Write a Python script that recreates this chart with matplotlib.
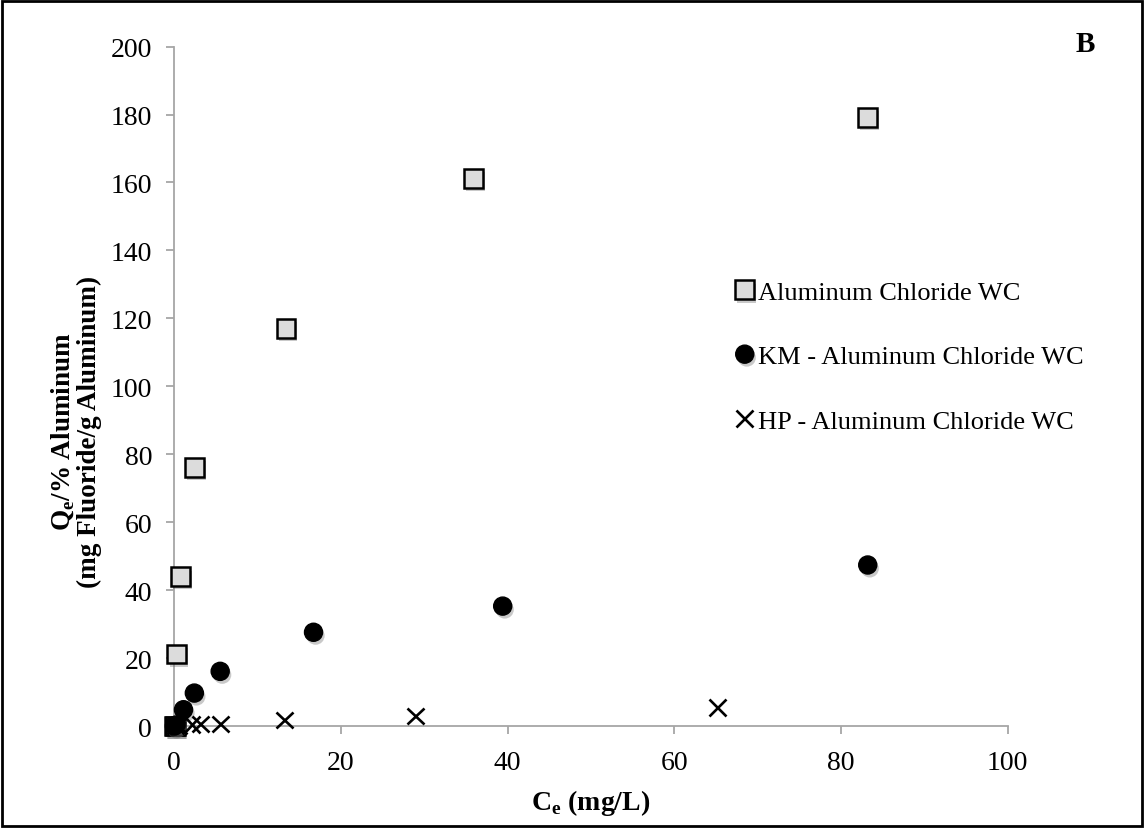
import matplotlib
matplotlib.use("Agg")
import matplotlib.pyplot as plt
import matplotlib.patheffects as pe
from matplotlib.patches import Rectangle

plt.rcParams['font.family'] = ['Liberation Serif', 'DejaVu Serif']
plt.rcParams['mathtext.fontset'] = 'custom'
plt.rcParams['mathtext.rm'] = 'Liberation Serif'
plt.rcParams['mathtext.bf'] = 'Liberation Serif:bold'

# Data
al_x = [0.0, 0.1, 0.3, 0.7, 2.4, 13.4, 35.9, 83.2]
al_y = [0.0, 0.0, 21.2, 44.0, 76.2, 117.1, 161.2, 179.2]
km_x = [0.0, 0.2, 1.1, 2.4, 5.5, 16.7, 39.4, 83.2]
km_y = [0.0, 0.3, 4.8, 9.7, 16.1, 27.6, 35.3, 47.4]
hp_x = [0.1, 0.5, 2.1, 3.1, 5.5, 13.2, 28.9, 65.2]
hp_y = [0.0, 0.1, 0.4, 0.6, 0.6, 1.8, 3.0, 5.5]
labels = ['Aluminum Chloride WC', 'KM - Aluminum Chloride WC', 'HP - Aluminum Chloride WC']

fig = plt.figure(figsize=(11.44, 8.29), dpi=100)
ax = fig.add_axes([0.1524, 0.1230, 0.7285, 0.8196])

shadow = [pe.SimplePatchShadow(offset=(1.5, -2.5), shadow_rgbFace='0.4', alpha=0.35), pe.Normal()]

ax.plot(al_x, al_y, ls='none', marker='s', ms=13.5, mfc='#dcdcdc', mec='black', mew=1.8,
        label=labels[0], clip_on=False, path_effects=shadow, zorder=3)
ax.plot(km_x, km_y, ls='none', marker='o', ms=13, mfc='black', mec='black',
        label=labels[1], clip_on=False, path_effects=shadow, zorder=4)
ax.plot(hp_x, hp_y, ls='none', marker='x', ms=12, mec='black', mew=1.9,
        label=labels[2], clip_on=False, path_effects=shadow, zorder=5)

ax.set_xlim(0, 100)
ax.set_ylim(0, 200)
ax.set_xticks(range(0, 101, 20))
ax.set_yticks(range(0, 201, 20))

for s in ['top', 'right']:
    ax.spines[s].set_visible(False)
for s in ['left', 'bottom']:
    ax.spines[s].set_color('#a6a6a6')
    ax.spines[s].set_linewidth(1.3)
ax.tick_params(axis='both', colors='#a6a6a6', labelcolor='black', length=6, width=1.3,
               labelsize=20)
ax.tick_params(axis='y', pad=10)
ax.tick_params(axis='x', pad=11)

ax.set_xlabel(r'C$_\mathbf{e}$ (mg/L)', fontsize=20, fontweight='bold', labelpad=9)
fig.text(0.066, 1 - 432 / 829, 'Q$_\\mathbf{e}$/% Aluminum\n(mg Fluoride/g Aluminum)',
         rotation=90, ha='center', va='center', multialignment='center',
         fontsize=19.5, fontweight='bold', linespacing=1.0)

leg = ax.legend(loc='upper left', bbox_to_anchor=(721 / 1144, 1 - 271 / 829),
                bbox_transform=fig.transFigure, frameon=False, fontsize=19,
                handletextpad=0.0, handlelength=1.0, labelspacing=1.55, borderaxespad=0)

fig.text(1085 / 1144, 1 - 45 / 829, 'B', ha='center', va='center', fontsize=21, fontweight='bold')

fig.patches.append(Rectangle((0.002, 0.002), 0.996, 0.996, transform=fig.transFigure,
                             fill=False, edgecolor='black', linewidth=2))

fig.savefig('out.png', dpi=100)
